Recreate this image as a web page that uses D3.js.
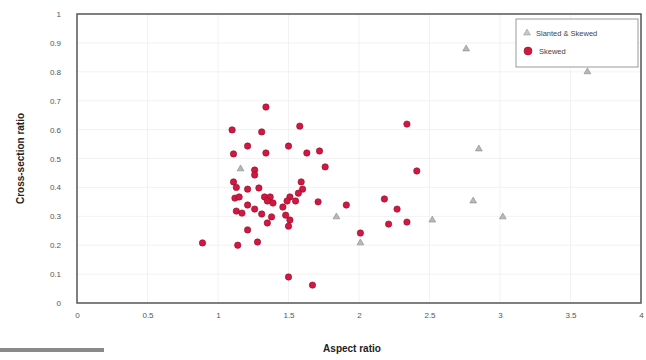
<!DOCTYPE html>
<html>
<head>
<meta charset="utf-8">
<script src="https://cdn.jsdelivr.net/npm/d3@7"></script>
<style>
  body { margin: 0; background: #fff; }
  svg { display: block; font-family: "Liberation Sans", Arial, sans-serif; }
</style>
</head>
<body>
<svg id="chart" width="646" height="360"></svg>
<script>
// Aspect ratio (x) and cross-section ratio (y) for each group
const slantedSkewedX = [2.76, 3.62, 2.85, 2.81, 3.02, 2.52, 1.84, 2.01, 1.16];
const slantedSkewedY = [0.879, 0.80, 0.533, 0.353, 0.298, 0.287, 0.298, 0.208, 0.464];

const skewedX = [1.34, 1.10, 1.31, 1.58, 1.21, 1.50, 1.11, 1.34, 1.63, 1.72, 1.76, 1.26, 1.26,
  1.11, 1.13, 1.21, 1.29, 1.12, 1.15, 1.33, 1.37, 1.35, 1.39, 1.59, 1.60, 1.57, 1.51, 1.55,
  1.49, 1.71, 1.91, 1.13, 1.17, 1.21, 1.26, 1.31, 1.38, 1.35, 1.46, 1.48, 1.51, 1.50, 1.21,
  1.14, 1.28, 0.89, 1.50, 1.67, 2.01, 2.34, 2.41, 2.18, 2.27, 2.21, 2.34];
const skewedY = [0.678, 0.599, 0.592, 0.612, 0.543, 0.543, 0.516, 0.519, 0.519, 0.526, 0.471, 0.46, 0.443,
  0.419, 0.40, 0.394, 0.398, 0.363, 0.367, 0.367, 0.367, 0.353, 0.346, 0.419, 0.394, 0.38, 0.367, 0.353,
  0.353, 0.35, 0.339, 0.318, 0.311, 0.339, 0.325, 0.308, 0.298, 0.277, 0.332, 0.304, 0.287, 0.266, 0.253,
  0.20, 0.211, 0.208, 0.09, 0.062, 0.242, 0.619, 0.457, 0.36, 0.325, 0.273, 0.28];

const xTicks = [0, 0.5, 1, 1.5, 2, 2.5, 3, 3.5, 4];
const yTicks = [0, 0.1, 0.2, 0.3, 0.4, 0.5, 0.6, 0.7, 0.8, 0.9, 1];
const seriesNames = ["Slanted & Skewed", "Skewed"];

const svg = d3.select("#chart");
const plotLeft = 77, plotRight = 641, plotTop = 14, plotBottom = 303;

const x = d3.scaleLinear().domain([0, 4]).range([plotLeft, plotRight]);
const y = d3.scaleLinear().domain([0, 1]).range([plotBottom, plotTop]);

// faint grid
const grid = svg.append("g");
grid.selectAll("line.v").data(xTicks.slice(1, -1)).join("line").attr("class", "v")
  .attr("x1", d => x(d)).attr("x2", d => x(d)).attr("y1", plotTop).attr("y2", plotBottom)
  .attr("stroke", "#f2f2f2").attr("stroke-width", 1);
grid.selectAll("line.h").data(yTicks.slice(1, -1)).join("line").attr("class", "h")
  .attr("y1", d => y(d)).attr("y2", d => y(d)).attr("x1", plotLeft).attr("x2", plotRight)
  .attr("stroke", "#f2f2f2").attr("stroke-width", 1);

// axes (labels only; frame drawn separately)
const xAxis = svg.append("g").attr("transform", `translate(0,${plotBottom})`)
  .call(d3.axisBottom(x).tickValues(xTicks).tickSize(0).tickPadding(9).tickFormat(d3.format("~g")));
const yAxis = svg.append("g").attr("transform", `translate(${plotLeft},0)`)
  .call(d3.axisLeft(y).tickValues(yTicks).tickSize(0).tickPadding(16).tickFormat(d3.format("~g")));
[xAxis, yAxis].forEach(g => {
  g.select(".domain").remove();
  g.selectAll("text").attr("fill", "#555").style("font-size", "8px");
});

// plot frame
svg.append("rect")
  .attr("x", plotLeft).attr("y", plotTop).attr("width", plotRight - plotLeft).attr("height", plotBottom - plotTop)
  .attr("fill", "none").attr("stroke", "#555").attr("stroke-width", 1.5);

// axis titles
svg.append("text").attr("x", 352).attr("y", 352).attr("text-anchor", "middle")
  .style("font-size", "10px").style("font-weight", "bold").attr("fill", "#222")
  .text("Aspect ratio");
svg.append("text").attr("transform", `translate(24,${(plotTop + plotBottom) / 2}) rotate(-90)`)
  .attr("text-anchor", "middle")
  .style("font-size", "10px").style("font-weight", "bold").attr("fill", "#222")
  .text("Cross-section ratio");

// gray bar at lower left
svg.append("rect").attr("x", 0).attr("y", 348).attr("width", 104).attr("height", 4)
  .attr("fill", "#8a8a8a");

const tri = d3.symbol().type(d3.symbolTriangle).size(20);

// Skewed: red dots
svg.append("g").selectAll("circle").data(d3.range(skewedX.length)).join("circle")
  .attr("cx", i => x(skewedX[i])).attr("cy", i => y(skewedY[i])).attr("r", 3.2)
  .attr("fill", "#d3173f").attr("stroke", "#8a1030").attr("stroke-width", 0.6);

// Slanted & Skewed: gray triangles
svg.append("g").selectAll("path").data(d3.range(slantedSkewedX.length)).join("path")
  .attr("transform", i => `translate(${x(slantedSkewedX[i])},${y(slantedSkewedY[i])})`)
  .attr("d", tri).attr("fill", "#b8b8b8").attr("stroke", "#888").attr("stroke-width", 0.6);

// legend
const lg = svg.append("g");
lg.append("rect").attr("x", 516).attr("y", 19).attr("width", 122).attr("height", 48)
  .attr("fill", "#fff").attr("stroke", "#999").attr("stroke-width", 1);
lg.append("path").attr("transform", "translate(527,33)").attr("d", tri)
  .attr("fill", "#c8c8c8").attr("stroke", "#999").attr("stroke-width", 0.6);
lg.append("circle").attr("cx", 528).attr("cy", 51).attr("r", 4)
  .attr("fill", "#d3173f").attr("stroke", "#8a1030").attr("stroke-width", 0.6);
lg.selectAll("text").data(seriesNames).join("text")
  .attr("x", (d, i) => i === 0 ? 536 : 539).attr("y", (d, i) => i === 0 ? 35.5 : 54)
  .style("font-size", "7.5px").attr("fill", "#444").text(d => d);
</script>
</body>
</html>
